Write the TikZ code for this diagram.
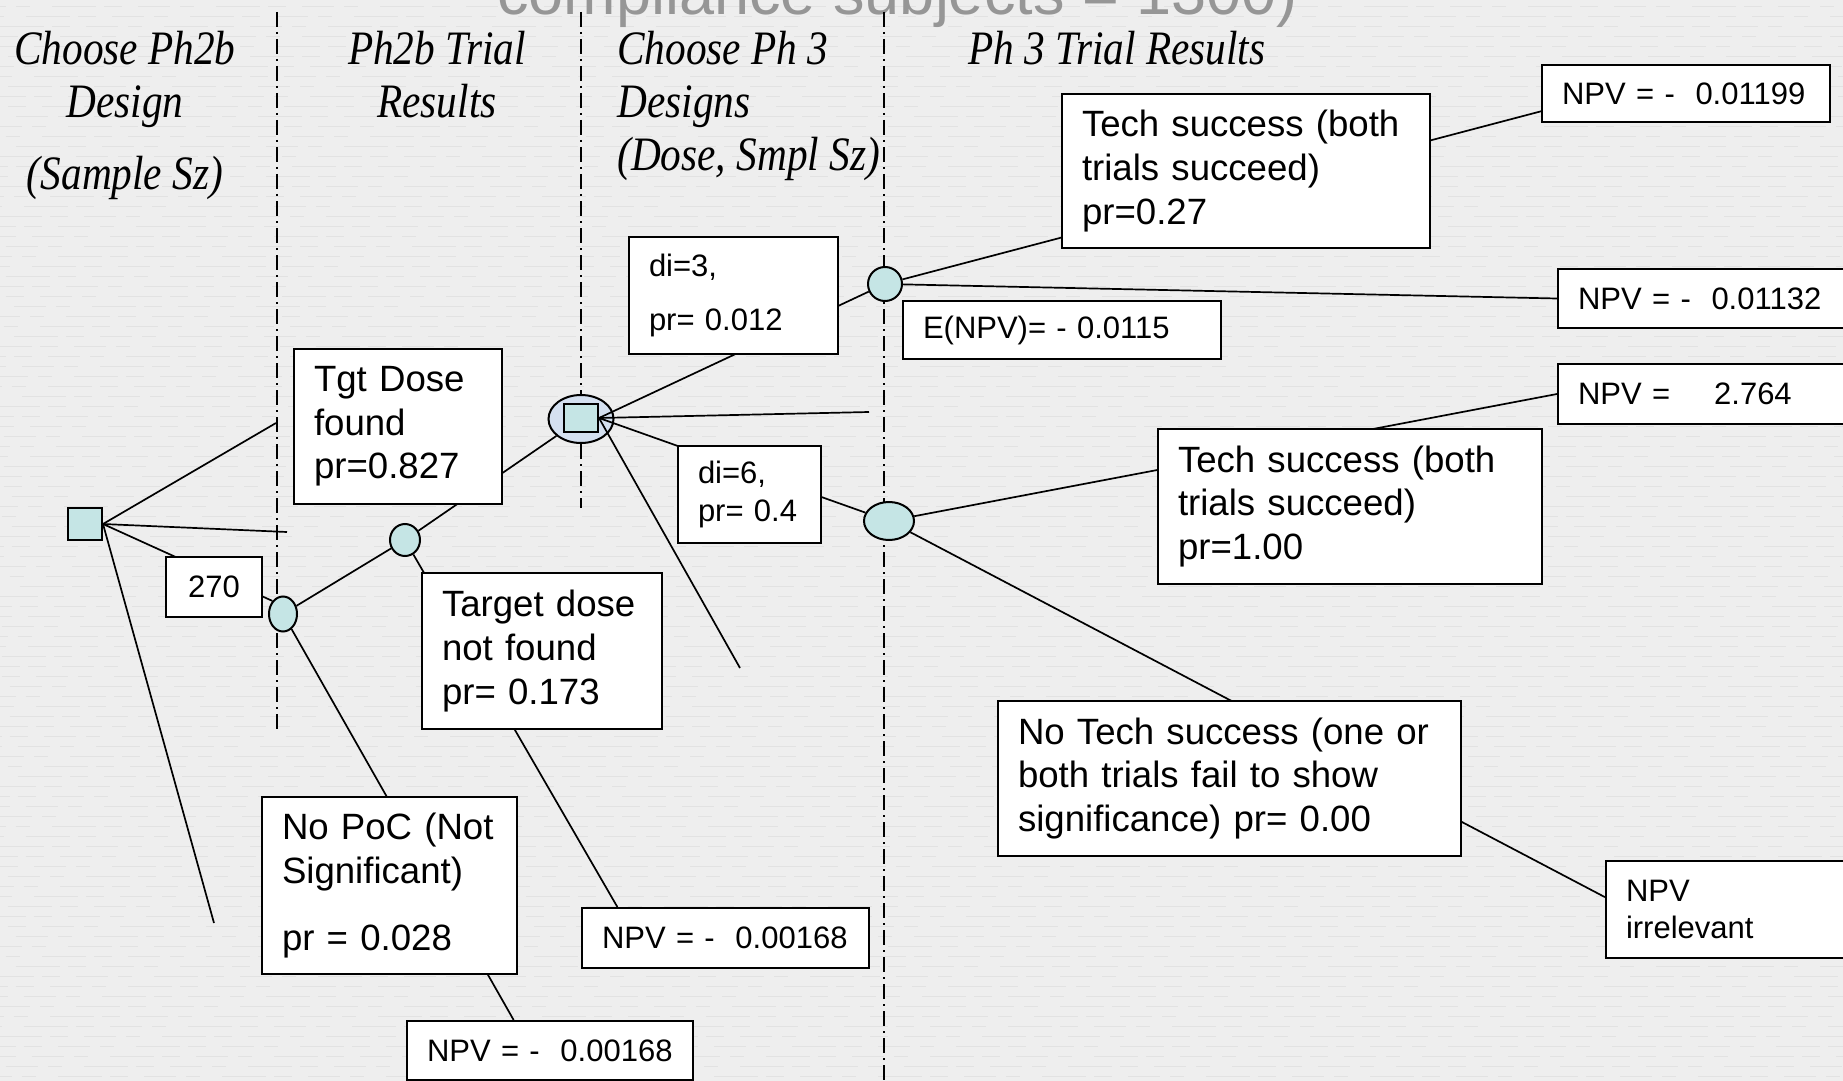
\documentclass[tikz,border=0pt]{standalone}
\usepackage{fontspec}
\setmainfont{Liberation Sans}
\newfontfamily\hdrfont[FakeStretch=0.86]{Liberation Serif}
\usetikzlibrary{shapes.geometric}
\definecolor{paper}{RGB}{238,238,238}
\definecolor{grain}{RGB}{226,226,226}
\definecolor{nodecyan}{RGB}{197,229,229}
\definecolor{ringblue}{RGB}{212,224,240}
\definecolor{titlegray}{RGB}{150,150,150}
\newcommand\bigtxt{\fontsize{18.3pt}{21.8pt}\selectfont}
\newcommand\smalltxt{\fontsize{15.5pt}{18.7pt}\selectfont}

\begin{document}
\begin{tikzpicture}[x=0.5pt,y=-0.5pt,
  hdr/.style={font=\hdrfont\itshape\fontsize{24pt}{26pt}\selectfont, inner sep=0pt},
  decsq/.style={rectangle, draw, fill=nodecyan, line width=1pt, inner sep=0pt},
  chance/.style={ellipse, draw, fill=nodecyan, line width=1pt, inner sep=0pt},
  tbox/.style={rectangle, draw, fill=white, line width=1pt, anchor=north west,
               inner ysep=0pt, inner xsep=10pt, align=left},
  bigbox/.style={tbox, font=\bigtxt},
  smallbox/.style={tbox, font=\smalltxt},
  branch/.style={line width=0.85pt},
  divider/.style={line width=0.8pt, dash pattern=on 7.5pt off 2.5pt on 1pt off 2.5pt}]

% page area and paper background
\useasboundingbox (0,0) rectangle (1843,1081);
\clip (0,0) rectangle (1843,1081);
\fill[paper] (0,0) rectangle (1843,1081);
% faint ruled grain of the paper
\foreach \yy [count=\k] in {6,16,...,1076}
  \draw[grain, line width=0.45pt,
        dash pattern=on 16pt off 5pt on 7pt off 11pt on 22pt off 4pt on 9pt off 8pt,
        dash phase=\k*13pt] (0,\yy) -- (1843,\yy);

% slide title running off the top edge
\node[anchor=base west, inner sep=0pt, text=titlegray,
      font=\fontsize{31.5pt}{34pt}\selectfont] (title) at (497,15)
      {compliance subjects = 1300)};

% stage headers
\node[hdr, anchor=base] (h1a) at (125,65) {Choose Ph2b};
\node[hdr, anchor=base] (h1b) at (125,117.5) {Design};
\node[hdr, anchor=base] (h1c) at (125,190) {(Sample Sz)};
\node[hdr, anchor=base] (h2a) at (437,65) {Ph2b Trial};
\node[hdr, anchor=base] (h2b) at (437,117.5) {Results};
\node[hdr, anchor=base west] (h3a) at (617,65) {Choose Ph 3};
\node[hdr, anchor=base west] (h3b) at (617,117.5) {Designs};
\node[hdr, anchor=base west] (h3c) at (617,170) {(Dose, Smpl Sz)};
\node[hdr, anchor=base west] (h4) at (968,65) {Ph 3 Trial Results};

% stage dividers
\draw[divider] (277,12) -- (277,730);
\draw[divider] (581,12) -- (581,508);
\draw[divider] (884,12) -- (884,1081);

% decision and chance nodes
\node[decsq, minimum width=17pt, minimum height=16pt] (sq1) at (85,524) {};
\node[chance, minimum width=14pt, minimum height=17.5pt] (c1) at (283,614) {};
\node[chance, minimum width=15pt, minimum height=16pt] (c2) at (405,540) {};
\node[ellipse, draw, fill=ringblue, line width=1pt, inner sep=0pt,
      minimum width=32.5pt, minimum height=24pt] (D2e) at (581,419) {};
\node[decsq, minimum width=17pt, minimum height=14pt] (D2s) at (581,418) {};
\node[chance, minimum width=17pt, minimum height=17pt] (c3) at (885,284) {};
\node[chance, minimum width=25pt, minimum height=19pt] (c4) at (889,521) {};

% terminal payoff boxes
\node[smallbox, text width=123.5pt, minimum height=30pt] (npvA) at (581,907) {NPV = -~~0.00168};
\node[smallbox, text width=123pt, minimum height=29.5pt] (npvB) at (406,1020) {NPV = -~~0.00168};
\node[smallbox, text width=124pt, minimum height=28.5pt] (npv1) at (1541,64) {NPV = -~~0.01199};
\node[smallbox, text width=140pt, minimum height=29.5pt] (npv2) at (1557,268) {NPV = -~~0.01132};
\node[smallbox, text width=140pt, minimum height=30pt] (npv3) at (1557,363) {NPV =\hspace{22pt}2.764};
\node[smallbox, text width=120pt, minimum height=48.5pt] (npv4) at (1605,860) {NPV\\irrelevant};

% loose ends of branches not followed further
\coordinate (e1) at (276,423);
\coordinate (e2) at (287,532);
\coordinate (e3) at (214,923);
\coordinate (e4) at (869,412);
\coordinate (e5) at (740,668);

% branches
\draw[branch] (sq1.east) -- (e1);
\draw[branch] (sq1.east) -- (e2);
\draw[branch] (sq1.east) -- (c1.north west);
\draw[branch] (sq1.east) -- (e3);
\draw[branch] (c1) -- (c2);
\draw[branch] (c1) -- (npvB.140);
\draw[branch] (c2) -- (D2e);
\draw[branch] (c2) -- (npvA.164);
\draw[branch] (D2s.east) -- (c3);
\draw[branch] (D2s.east) -- (e4);
\draw[branch] (D2s.east) -- (c4);
\draw[branch] (D2s.east) -- (e5);
\draw[branch] (c3) -- (npv1.187);
\draw[branch] (c3) -- (npv2.west);
\draw[branch] (c4) -- (npv3.west);
\draw[branch] (c4) -- (npv4.175);

% branch labels
\node[tbox, font=\smalltxt, inner xsep=0pt, minimum width=48pt, minimum height=30pt, align=center] (b270) at (165,556) {270};
\node[bigbox, text width=84pt, minimum height=77.5pt] (tgt) at (293,348) {Tgt Dose\\found\\pr=0.827};
\node[bigbox, text width=100pt, minimum height=78pt] (nfound) at (421,572) {Target dose\\not found\\pr= 0.173};
\node[bigbox, text width=107.5pt, minimum height=88.5pt] (nopoc) at (261,796) {No PoC (Not\\Significant)\\[11.75pt]pr = 0.028};
\node[smallbox, text width=84.5pt, minimum height=58.5pt] (di3) at (628,236) {di=3,\\[8.5pt]pr= 0.012};
\node[smallbox, text width=51.5pt, minimum height=48.5pt] (di6) at (677,445) {di=6,\\pr= 0.4};
\node[bigbox, text width=164pt, minimum height=77pt] (ts1) at (1061,93) {Tech success (both\\trials succeed)\\pr=0.27};
\node[smallbox, text width=139pt, minimum height=29pt] (enpv) at (902,300) {E(NPV)= - 0.0115};
\node[bigbox, text width=172pt, minimum height=77.5pt] (ts2) at (1157,428) {Tech success (both\\trials succeed)\\pr=1.00};
\node[bigbox, text width=211.5pt, minimum height=77.5pt] (notech) at (997,700) {No Tech success (one or\\both trials fail to show\\significance) pr= 0.00};
\end{tikzpicture}
\end{document}
